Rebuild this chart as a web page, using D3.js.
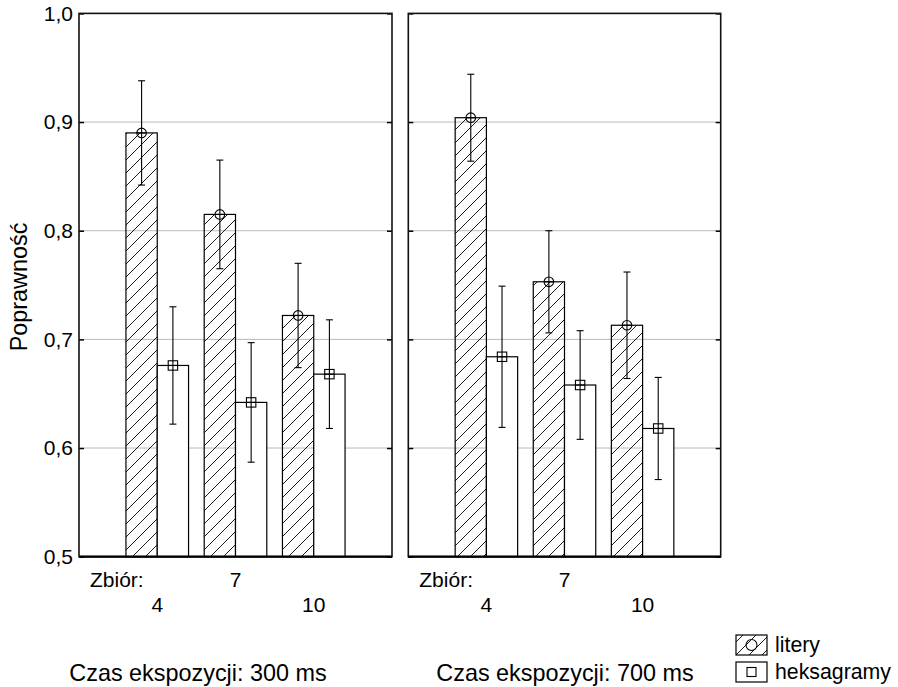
<!DOCTYPE html>
<html>
<head>
<meta charset="utf-8">
<script src="https://cdn.jsdelivr.net/npm/d3@7"></script>
<style>
  html, body { margin: 0; padding: 0; background: #fff; }
  svg { display: block; font-family: "Liberation Sans", Arial, sans-serif; }
</style>
</head>
<body>
<svg id="chart" width="898" height="687"></svg>
<script>
// Set sizes (x categories) and stimulus types (series)
const sets = ["4", "7", "10"];
const series = ["litery", "heksagramy"];
const panelTitles = ["Czas ekspozycji: 300 ms", "Czas ekspozycji: 700 ms"];

// Mean accuracy and error-bar half-widths, exposure 300 ms
const litery300 = [0.890, 0.815, 0.722];
const litery300Err = [0.048, 0.050, 0.048];
const heksagramy300 = [0.676, 0.642, 0.668];
const heksagramy300Err = [0.054, 0.055, 0.050];

// Mean accuracy and error-bar half-widths, exposure 700 ms
const litery700 = [0.904, 0.753, 0.713];
const litery700Err = [0.040, 0.047, 0.049];
const heksagramy700 = [0.684, 0.658, 0.618];
const heksagramy700Err = [0.065, 0.050, 0.047];

const yTicks = [0.5, 0.6, 0.7, 0.8, 0.9, 1.0];
const yLabel = "Poprawność";
const setLabel = "Zbiór:";

const panelsData = [
  { title: panelTitles[0], values: [litery300, heksagramy300], errs: [litery300Err, heksagramy300Err] },
  { title: panelTitles[1], values: [litery700, heksagramy700], errs: [litery700Err, heksagramy700Err] }
];

const svg = d3.select("#chart");
const fmt = d => d3.format(".1f")(d).replace(".", ",");
const FONT = "Liberation Sans, Arial, sans-serif";

// Hatch for the "litery" bars
const defs = svg.append("defs");
defs.append("pattern")
  .attr("id", "hatch")
  .attr("patternUnits", "userSpaceOnUse")
  .attr("width", 13).attr("height", 13)
  .append("path")
  .attr("d", "M0,13 L13,0 M-3,3 L3,-3 M10,16 L16,10")
  .attr("stroke", "#000")
  .attr("stroke-width", 0.9)
  .attr("fill", "none");

const plotTop = 13.4, plotBottom = 556.7;
const y = d3.scaleLinear().domain([0.5, 1.0]).range([plotBottom, plotTop]);
const panelExtents = [[79, 392], [408.3, 720.7]];
const titleCenters = [198, 565];

panelsData.forEach((p, pi) => {
  const [L, R] = panelExtents[pi];
  const g = svg.append("g");

  const x = d3.scaleBand().domain(sets).range([L, R]).paddingInner(0.2).paddingOuter(0.6);
  const xs = d3.scaleBand().domain(series).range([0, x.bandwidth()]);

  // gridlines
  g.append("g").selectAll("line")
    .data(yTicks.filter(t => t > 0.5 && t < 1.0))
    .join("line")
    .attr("x1", L).attr("x2", R)
    .attr("y1", d => y(d)).attr("y2", d => y(d))
    .attr("stroke", "#b9b9b9").attr("stroke-width", 1);

  // bars
  const rows = [];
  sets.forEach((s, i) => series.forEach((se, k) => {
    rows.push({ set: s, series: se, k, v: p.values[k][i], e: p.errs[k][i] });
  }));

  g.append("g").selectAll("rect")
    .data(rows)
    .join("rect")
    .attr("x", d => x(d.set) + xs(d.series))
    .attr("width", xs.bandwidth())
    .attr("y", d => y(d.v))
    .attr("height", d => y(0.5) - y(d.v))
    .attr("fill", d => d.k === 0 ? "url(#hatch)" : "#fff")
    .attr("stroke", "#000")
    .attr("stroke-width", 1.2);

  // error bars with markers
  const eb = g.append("g").attr("stroke", "#000").attr("stroke-width", 1.1).attr("fill", "none");
  rows.forEach(d => {
    const cx = x(d.set) + xs(d.series) + xs.bandwidth() / 2;
    const y1 = y(d.v + d.e), y2 = y(d.v - d.e);
    eb.append("line").attr("x1", cx).attr("x2", cx).attr("y1", y1).attr("y2", y2);
    eb.append("line").attr("x1", cx - 3.5).attr("x2", cx + 3.5).attr("y1", y1).attr("y2", y1);
    eb.append("line").attr("x1", cx - 3.5).attr("x2", cx + 3.5).attr("y1", y2).attr("y2", y2);
    const cy = y(d.v);
    if (d.k === 0) {
      eb.append("circle").attr("cx", cx).attr("cy", cy).attr("r", 4.8).attr("fill", "none");
    } else {
      eb.append("rect").attr("x", cx - 4.7).attr("y", cy - 4.7).attr("width", 9.4).attr("height", 9.4).attr("fill", "none");
    }
    eb.append("line").attr("x1", cx - 4.8).attr("x2", cx + 4.8).attr("y1", cy).attr("y2", cy);
  });

  // axes: inward ticks on both sides
  const left = d3.axisLeft(y).tickValues(yTicks).tickSizeInner(-5).tickSizeOuter(0).tickPadding(6)
    .tickFormat(pi === 0 ? fmt : () => "");
  const la = g.append("g").attr("transform", `translate(${L},0)`).call(left);
  la.select(".domain").remove();
  la.selectAll("line").attr("stroke", "#000").attr("stroke-width", 1.5);
  la.selectAll("text").attr("font-size", 21).attr("fill", "#000").attr("font-family", FONT);

  const right = d3.axisRight(y).tickValues(yTicks).tickSizeInner(-5).tickSizeOuter(0).tickFormat(() => "");
  const ra = g.append("g").attr("transform", `translate(${R},0)`).call(right);
  ra.select(".domain").remove();
  ra.selectAll("line").attr("stroke", "#000").attr("stroke-width", 1.5);

  // frame
  g.append("rect").attr("x", L).attr("y", plotTop).attr("width", R - L).attr("height", plotBottom - plotTop)
    .attr("fill", "none").attr("stroke", "#111").attr("stroke-width", 1.6);
  g.append("line").attr("x1", L).attr("x2", R).attr("y1", plotBottom).attr("y2", plotBottom)
    .attr("stroke", "#000").attr("stroke-width", 2.2);

  // x axis labels in two staggered rows
  const xa = g.append("g").attr("transform", `translate(0,${plotBottom})`)
    .call(d3.axisBottom(x).tickSize(0).tickPadding(0));
  xa.select(".domain").remove();
  xa.selectAll("text")
    .attr("font-size", 21).attr("fill", "#000")
    .attr("font-family", FONT)
    .attr("dy", null)
    .attr("y", (d, i) => i % 2 === 0 ? 55 : 30);
  g.append("text").attr("x", L + 11).attr("y", plotBottom + 30)
    .attr("font-size", 21).text(setLabel);

  // panel title
  g.append("text").attr("x", titleCenters[pi]).attr("y", 681)
    .attr("text-anchor", "middle").attr("font-size", 23.4).text(p.title);
});

// y axis title
svg.append("text")
  .attr("transform", "translate(27,287) rotate(-90)")
  .attr("text-anchor", "middle").attr("font-size", 23.4).text(yLabel);

// legend
const lg = svg.append("g");
const lrows = [{ name: series[0], y: 635 }, { name: series[1], y: 662 }];
lrows.forEach((r, k) => {
  lg.append("rect").attr("x", 736).attr("y", r.y).attr("width", 31).attr("height", 20)
    .attr("fill", k === 0 ? "url(#hatch)" : "#fff").attr("stroke", "#000").attr("stroke-width", 1.2);
  if (k === 0) {
    lg.append("circle").attr("cx", 751.5).attr("cy", r.y + 10).attr("r", 5.5)
      .attr("fill", "none").attr("stroke", "#000").attr("stroke-width", 1.1);
  } else {
    lg.append("rect").attr("x", 747).attr("y", r.y + 5.5).attr("width", 9).attr("height", 9)
      .attr("fill", "none").attr("stroke", "#000").attr("stroke-width", 1.1);
  }
  lg.append("text").attr("x", 775).attr("y", r.y + 17).attr("font-size", 21.3).text(r.name);
});
</script>
</body>
</html>
